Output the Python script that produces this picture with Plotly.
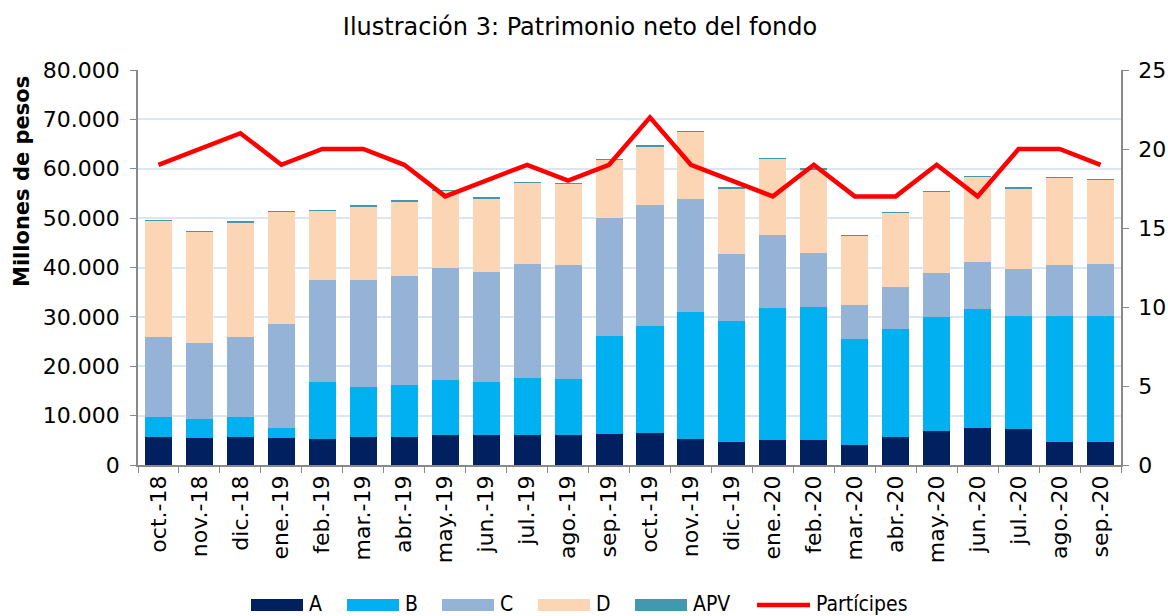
import plotly.graph_objects as go

meses = ["oct.-18", "nov.-18", "dic.-18", "ene.-19", "feb.-19", "mar.-19", "abr.-19", "may.-19",
         "jun.-19", "jul.-19", "ago.-19", "sep.-19", "oct.-19", "nov.-19", "dic.-19", "ene.-20",
         "feb.-20", "mar.-20", "abr.-20", "may.-20", "jun.-20", "jul.-20", "ago.-20", "sep.-20"]

# cumulative tops (millions of pesos)
top_A = [5730, 5540, 5730, 5540, 5340, 5600, 5670, 6000, 6000, 6100, 6100, 6350,
         6400, 5270, 4730, 5130, 5130, 4100, 5730, 6890, 7560, 7220, 4590, 4590]
top_B = [9780, 9300, 9780, 7560, 16900, 15700, 16200, 17300, 16900, 17700, 17500, 26200,
         28200, 31000, 29200, 31700, 31900, 25600, 27600, 30000, 31500, 30200, 30200, 30200]
top_C = [26000, 24800, 25900, 28600, 37500, 37500, 38300, 39800, 39100, 40800, 40600, 50100,
         52700, 53900, 42700, 46500, 42900, 32500, 36100, 38800, 41200, 39600, 40600, 40800]
top_D = [49500, 47200, 49200, 51300, 51500, 52400, 53400, 55500, 54000, 57200, 57000, 61800,
         64600, 67500, 56100, 62000, 59900, 46400, 51100, 55400, 58400, 56100, 58200, 57800]

serie_A = top_A
serie_B = [b - a for a, b in zip(top_A, top_B)]
serie_C = [c - b for b, c in zip(top_B, top_C)]
serie_D = [d - c for c, d in zip(top_C, top_D)]
serie_APV = [90] * 24
participes = [19, 20, 21, 19, 20, 20, 19, 17, 18, 19, 18, 19,
              22, 19, 18, 17, 19, 17, 17, 19, 17, 20, 20, 19]

FONT = "DejaVu Sans"
colors = {"A": "#002060", "B": "#00B0F0", "C": "#95B3D7", "D": "#FCD5B5", "APV": "#4198AF"}
LINE_RED = "#FF0000"

# plot-area geometry in pixels (used only to place the hand-built legend/labels)
L, R, T, B = 138, 47, 70, 151
W, H = 1168, 616
PW, PH = W - L - R, H - T - B


def px_x(px):
    return (px - L) / PW


def px_y(py):
    return (H - B - py) / PH


fig = go.Figure()
for name, vals in [("A", serie_A), ("B", serie_B), ("C", serie_C), ("D", serie_D), ("APV", serie_APV)]:
    fig.add_trace(go.Bar(x=meses, y=vals, name=name, marker_color=colors[name],
                         marker_line_width=0, yaxis="y", showlegend=False))
fig.add_trace(go.Scatter(x=meses, y=participes, name="Partícipes", mode="lines",
                         line=dict(color=LINE_RED, width=4.5), yaxis="y2", showlegend=False))

fig.update_layout(
    width=W, height=H,
    barmode="stack", bargap=0.34,
    separators=",.",
    paper_bgcolor="white", plot_bgcolor="white",
    margin=dict(l=L, r=R, t=T, b=B, autoexpand=False),
    font=dict(family=FONT, size=22, color="#000000"),
    title=dict(text="Ilustración 3: Patrimonio neto del fondo", x=580 / W, xanchor="center",
               y=1 - 27 / H, yanchor="middle", font=dict(family=FONT, size=24)),
    xaxis=dict(type="category", tickangle=-90, tickfont=dict(size=22),
               showline=True, linecolor="#898989", linewidth=1.5,
               ticks="outside", ticklen=6, tickcolor="#898989", tickson="boundaries",
               showgrid=False),
    yaxis=dict(range=[0, 80000], dtick=10000, tickformat=",d",
               showline=True, linecolor="#898989", linewidth=1.5,
               ticks="outside", ticklen=6, tickcolor="#898989", ticklabelstandoff=6,
               showgrid=True, gridcolor="#DCE6F2", gridwidth=1.5, zeroline=False,
               tickfont=dict(size=22)),
    yaxis2=dict(range=[0, 25], dtick=5, overlaying="y", side="right",
                showline=True, linecolor="#898989", linewidth=1.5,
                ticks="outside", ticklen=6, tickcolor="#898989", ticklabelstandoff=5,
                showgrid=False, zeroline=False, tickfont=dict(size=22)),
    showlegend=False,
)

fig.add_annotation(text="<b>Millones de pesos</b>", xref="paper", yref="paper",
                   x=px_x(22), y=px_y(182), textangle=-90,
                   showarrow=False, xanchor="center", yanchor="middle",
                   font=dict(family=FONT, size=21))

# hand-built legend (Excel style wide swatches)
legend_items = [("A", 251), ("B", 347), ("C", 442), ("D", 538), ("APV", 635)]
for name, x0 in legend_items:
    fig.add_shape(type="rect", xref="paper", yref="paper",
                  x0=px_x(x0), x1=px_x(x0 + 52), y0=px_y(599), y1=px_y(611),
                  fillcolor=colors[name], line_width=0)
    fig.add_annotation(text=name, xref="paper", yref="paper", x=px_x(x0 + 56), y=px_y(604),
                       xanchor="left", yanchor="middle", showarrow=False,
                       font=dict(family="DejaVu Sans Condensed", size=21))
fig.add_shape(type="line", xref="paper", yref="paper",
              x0=px_x(757), x1=px_x(810), y0=px_y(605), y1=px_y(605),
              line=dict(color=LINE_RED, width=4.5))
fig.add_annotation(text="Partícipes", xref="paper", yref="paper", x=px_x(814), y=px_y(604),
                   xanchor="left", yanchor="middle", showarrow=False,
                   font=dict(family="DejaVu Sans Condensed", size=21))

fig.write_html("out.html")
